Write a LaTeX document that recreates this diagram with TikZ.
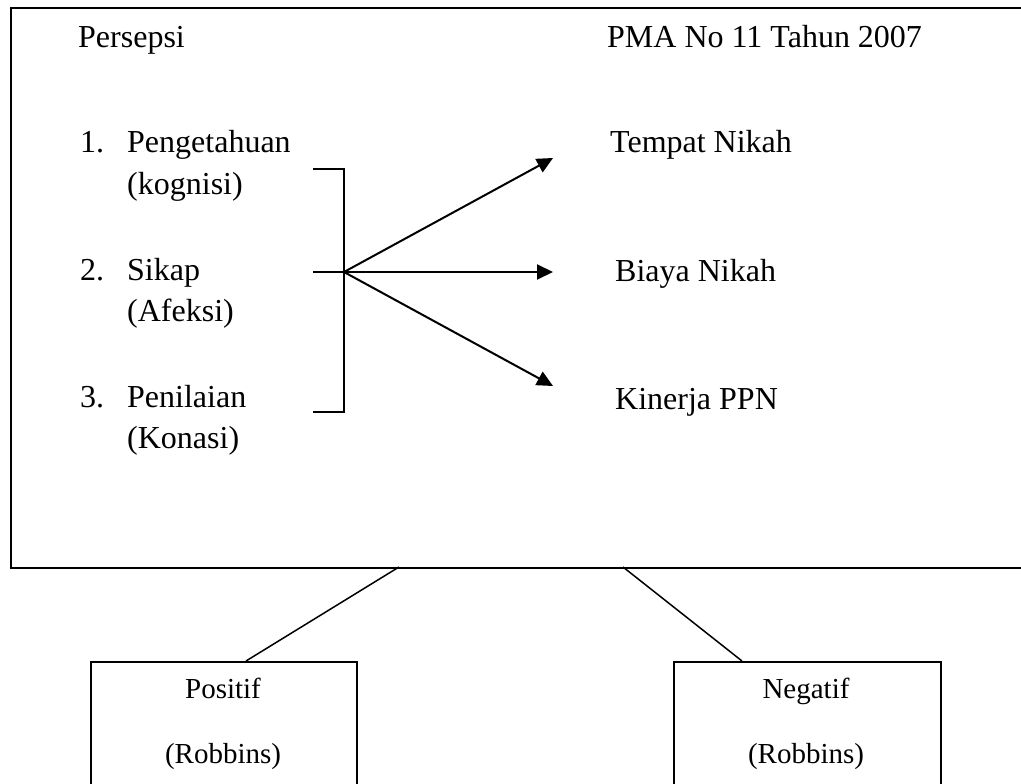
\documentclass[tikz,border=0pt]{standalone}
\usepackage{fontspec}
\setmainfont{Liberation Serif}
\usetikzlibrary{arrows.meta}
\usetikzlibrary{positioning}

\begin{document}
\begin{tikzpicture}[x=1pt,y=-1pt,
    txt/.style={anchor=base west,inner sep=0pt,font=\fontsize{32}{38}\selectfont},
    boxtxt/.style={anchor=base,inner sep=0pt,font=\fontsize{29}{35}\selectfont},
    link/.style={line width=1.5pt},
    pointer/.style={draw,line width=2pt,-{Triangle[length=16pt,width=15pt]}}]

  \useasboundingbox (0,0) rectangle (1021,784);

  % outer frame
  \node [draw,rectangle,line width=2pt,inner sep=0pt,anchor=north west,
         minimum width=1040pt,minimum height=560pt] (frame) at (10,7) {};

  \node [txt] (persepsi) at (78,48)  {Persepsi};
  \node [txt] (pma)      at (607,48) {PMA No 11 Tahun 2007};

  \node [txt] (n_1)         at (80,152)  {1.};
  \node [txt] (pengetahuan) at (127,152) {Pengetahuan};
  \node [txt] (kognisi)     at (127,194) {(kognisi)};
  \node [txt] (n_2)         at (80,280)  {2.};
  \node [txt] (sikap)       at (127,280) {Sikap};
  \node [txt] (afeksi)      at (127,321) {(Afeksi)};
  \node [txt] (n_3)         at (80,407)  {3.};
  \node [txt] (penilaian)   at (127,407) {Penilaian};
  \node [txt] (konasi)      at (127,448) {(Konasi)};

  \node [txt] (tempat)  at (610,153) {Tempat Nikah};
  \node [txt] (biaya)   at (615,281) {Biaya Nikah};
  \node [txt] (kinerja) at (615,409) {Kinerja PPN};

  % bracket
  \coordinate (br_top) at (313,169);
  \coordinate (br_mid) at (313,272);
  \coordinate (br_bot) at (313,412);
  \coordinate (hub)    at (344,272);
  \draw [line width=1.5pt] (br_top) -| (hub) |- (br_bot);
  \draw [line width=1.5pt] (br_mid) -- (hub);

  \coordinate (to_tempat)  at (553,158);
  \coordinate (to_biaya)   at (553,272);
  \coordinate (to_kinerja) at (553,386);

  \path
    (hub) edge [pointer] (to_tempat)
    (hub) edge [pointer] (to_biaya)
    (hub) edge [pointer] (to_kinerja);

  % lower boxes
  \node [draw,rectangle,link,inner sep=0pt,anchor=north west,
         minimum width=266pt,minimum height=150pt] (pos_box) at (90,661) {};
  \node [draw,rectangle,link,inner sep=0pt,anchor=north west,
         minimum width=267pt,minimum height=150pt] (neg_box) at (673,661) {};

  \node [boxtxt] (positif)  at (223,698) {Positif};
  \node [boxtxt] (pos_src)  at (223,763) {(Robbins)};
  \node [boxtxt] (negatif)  at (806,698) {Negatif};
  \node [boxtxt] (neg_src)  at (806,763) {(Robbins)};

  \coordinate (frame_l) at (399,567);
  \coordinate (frame_r) at (623,567);
  \coordinate (pos_top) at (246,661);
  \coordinate (neg_top) at (742,661);

  \path [draw,link]
    (frame_l) edge (pos_top)
    (frame_r) edge (neg_top);

\end{tikzpicture}
\end{document}
